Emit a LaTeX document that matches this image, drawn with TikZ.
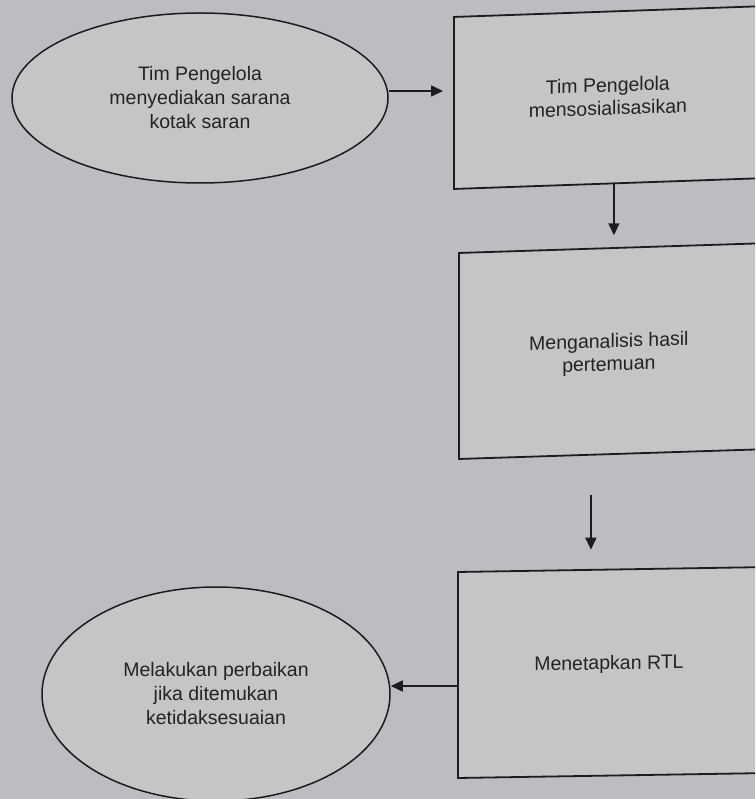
\documentclass[tikz,border=0pt]{standalone}
\usepackage{fontspec}
\setmainfont{Liberation Sans}
\usetikzlibrary{shapes.geometric,arrows.meta,calc}
\definecolor{bgc}{RGB}{189,189,193}
\definecolor{fillc}{RGB}{197,197,200}
\definecolor{inkc}{RGB}{28,28,30}
\definecolor{txtc}{RGB}{35,35,38}
\tikzset{
  oval/.style={ellipse, draw=inkc, fill=fillc, line width=1.5pt, inner sep=0pt,
    align=center, text=txtc, font=\fontsize{19.5}{24}\selectfont},
  stepbox/.style={rectangle, draw=inkc, fill=fillc, line width=1.8pt, inner sep=0pt},
  boxtxt/.style={align=center, text=txtc, font=\fontsize{19.5}{23}\selectfont, inner sep=0pt},
  arr/.style={draw=inkc, line width=1.6pt, -{Triangle[length=12pt,width=11pt]}}
}
\begin{document}
\begin{tikzpicture}[x=1pt,y=-1pt]
\useasboundingbox (0,0) rectangle (755,799);
\clip (0,0) rectangle (755,799);
\fill[bgc] (0,0) rectangle (755,799);

% ellipses
\node[oval, minimum width=376pt, minimum height=170pt] (e1) at (200,98)
  {Tim Pengelola\\menyediakan sarana\\kotak saran};
\node[oval, minimum width=348pt, minimum height=214pt] (e2) at (216,694)
  {Melakukan perbaikan\\jika ditemukan\\ketidaksesuaian};

% boxes
\node[stepbox, yslant=0.035, anchor=west, minimum width=308pt, minimum height=172pt] (b1) at (453,103) {};
\node[boxtxt, yslant=0.035] (t1) at ([yshift=1pt]b1.center) {Tim Pengelola\\mensosialisasikan};
\node[stepbox, yslant=0.032, anchor=west, minimum width=300pt, minimum height=206pt] (b2) at (458,356) {};
\node[boxtxt, yslant=0.032] (t2) at ([yshift=-3pt]b2.center) {Menganalisis hasil\\pertemuan};
\node[stepbox, yslant=0.016, anchor=west, minimum width=302pt, minimum height=206pt] (b3) at (457,675) {};
\node[boxtxt, yslant=0.016] (t3) at ([yshift=8pt]b3.center) {Menetapkan RTL};

% connectors
\draw[arr, shorten >=10pt] ([yshift=7pt]e1.east) -- ([yshift=7pt]e1.east -| b1.west);
\draw[arr, shorten >=12pt] ([xshift=6pt]b1.south) -- ([xshift=6pt]b1.south |- b2.north);
\draw[arr, shorten <=40pt, shorten >=19pt] ([xshift=-18pt]b2.south) -- ([xshift=-18pt]b2.south |- b3.north);
\draw[arr] ([yshift=-11pt]b3.west) -- ([yshift=-11pt]b3.west -| e2.east);
\end{tikzpicture}
\end{document}
